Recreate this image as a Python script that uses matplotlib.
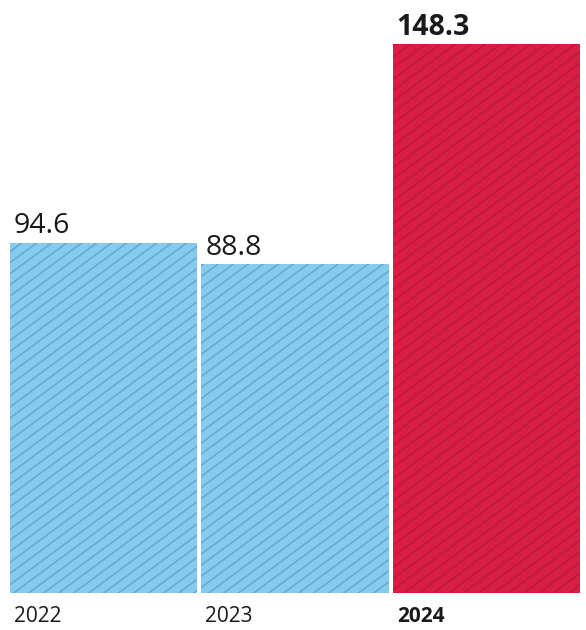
import numpy as np
import matplotlib
matplotlib.use("Agg")
import matplotlib.pyplot as plt
from matplotlib.collections import LineCollection

years = ["2022", "2023", "2024"]
values = [94.6, 88.8, 148.3]
value_labels = ["94.6", "88.8", "148.3"]
highlight = [False, False, True]

plt.rcParams['font.family'] = ['Open Sans', 'DejaVu Sans']

W, H, DPI = 586, 630, 100
fig = plt.figure(figsize=(W / DPI, H / DPI), dpi=DPI)
ax_left, ax_right = 8, 582
ax_bottom, ax_top = 593, 0
ax = fig.add_axes([ax_left / W, (H - ax_bottom) / H, (ax_right - ax_left) / W, (ax_bottom - ax_top) / H])
ax.set_xlim(-0.5, 2.5)
ax.set_ylim(0, 593 / 3.70)
ax.axis('off')

fill_colors = ['#86CBEF' if not h else '#D81E45' for h in highlight]
hatch_colors = ['#64A7D2' if not h else '#BF183D' for h in highlight]
width = 0.98
x = np.arange(len(years))
bars = ax.bar(x, values, width=width, color=fill_colors, linewidth=0)

# diagonal hatch lines (display inches), clipped to each bar
spacing = 0.15
slope = 0.74
fw, fh = W / DPI, H / DPI
offsets = np.arange(-fh / slope - 1, fw + 1, spacing)
segs = [[(o, 0), (o + (fh + 1) / slope, fh + 1)] for o in offsets]
for bar, hc in zip(bars, hatch_colors):
    lc = LineCollection(segs, colors=hc, linewidths=1.1, transform=fig.dpi_scale_trans, zorder=3)
    fig.add_artist(lc)
    lc.set_clip_path(bar)

for xi, v, lab, h in zip(x, values, value_labels, highlight):
    ax.annotate(lab, xy=(xi - width / 2, v), xytext=(3, 7), textcoords='offset points',
                ha='left', va='baseline', fontsize=20.5,
                fontweight='bold' if h else 'normal', color='#1a1a1a')

for xi, y, h in zip(x, years, highlight):
    ax.annotate(y, xy=(xi - width / 2, 0), xytext=(3, -21), textcoords='offset points',
                ha='left', va='baseline', fontsize=15,
                fontweight='bold' if h else 'normal', color='#1a1a1a')

fig.savefig('out.png', dpi=DPI, facecolor='white')
